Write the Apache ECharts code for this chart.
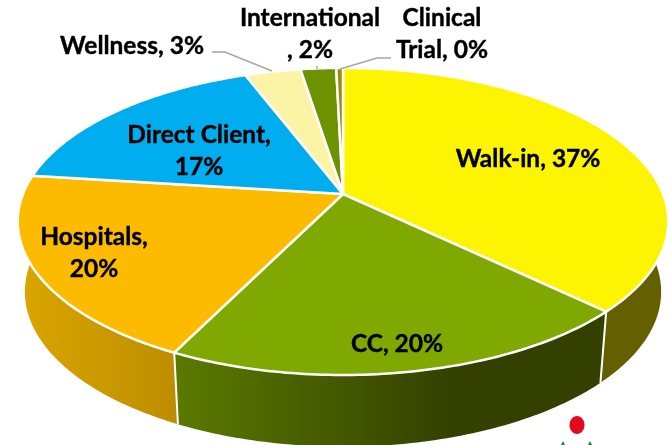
<!DOCTYPE html>
<html>
<head>
<meta charset="utf-8">
<style>
  html, body { margin: 0; padding: 0; background: #fff; }
  #chart { width: 670px; height: 445px; }
</style>
<script src="https://cdn.jsdelivr.net/npm/echarts@6/dist/echarts.min.js"></script>
</head>
<body>
<div id="chart"></div>
<script>
// slice data, shares in percent
var categories = ['Walk-in', 'CC', 'Hospitals', 'Direct Client', 'Wellness', 'International', 'Clinical Trial'];
var shares = [37.2, 20.1, 19.7, 17.2, 3.3, 2.1, 0.4];
var labels = ['Walk-in, 37%', 'CC, 20%', 'Hospitals,\n20%', 'Direct Client,\n17%', 'Wellness, 3%', 'International\n, 2%', 'Clinical\nTrial, 0%'];

var topColors = ['#FCF400', '#7FA900', '#FDBB00', '#00AEEF', '#FBF3A6', '#6E9300', '#978C0E'];
var sideColors = ['#646000', ['#5B7A00', '#334000', 0.65], ['#DBA600', '#BD8D00', 1], '#006A90', '#99946A', '#435900', '#5C5508'];
var labelCenters = [[528, 159], [397, 344], [94, 253], [199, 151], [132, 46], [310, 34], [442, 34]];

// perspective of the disc: apex, half axes and foreshortening
var k = 0.179;
var topRim = { x: 343, y: 194, a: 320, b: 148.6 };
var lowRim = { x: 343, y: 264, a: 313, b: 150 };

function project(rim, share) {
  var t = share / 100 * Math.PI * 2;
  var X = Math.sin(t), Y = Math.cos(t);
  var d = 1 + k * Y;
  return [rim.x + rim.a * X / d, rim.y - rim.b * Y / d];
}

function arc(rim, from, to) {
  var pts = [];
  var n = Math.max(2, Math.ceil((to - from) * 4));
  for (var i = 0; i <= n; i++) {
    pts.push(project(rim, from + (to - from) * i / n));
  }
  return pts;
}

function startOf(idx) {
  var s = 0;
  for (var i = 0; i < idx; i++) s += shares[i];
  return s;
}

function sideFill(c) {
  if (typeof c === 'string') return c;
  return new echarts.graphic.LinearGradient(0, 0, 1, 0, [
    { offset: 0, color: c[0] },
    { offset: c[2], color: c[1] },
    { offset: 1, color: c[1] }
  ]);
}

function renderSide(params, api) {
  var i = params.dataIndex;
  var from = startOf(i), to = from + api.value(0);
  var pts = arc(topRim, from, to).concat(arc(lowRim, from, to).reverse());
  // no outline here, only the seam between two slices is white
  return {
    type: 'group',
    children: [{
      type: 'polygon',
      shape: { points: pts },
      style: { fill: sideFill(sideColors[i]) }
    }, {
      type: 'polyline',
      z2: 1,
      shape: { points: [project(topRim, to), project(lowRim, to)] },
      style: { stroke: '#fff', lineWidth: 2, fill: null }
    }]
  };
}

function renderTop(params, api) {
  var i = params.dataIndex;
  var from = startOf(i), to = from + api.value(0);
  var pts = [[topRim.x, topRim.y]].concat(arc(topRim, from, to));
  return {
    type: 'polygon',
    shape: { points: pts },
    style: { fill: topColors[i], stroke: '#fff', lineWidth: 2.5, lineJoin: 'round' }
  };
}

function renderLabel(params) {
  var i = params.dataIndex;
  return {
    type: 'text',
    x: labelCenters[i][0],
    y: labelCenters[i][1],
    style: {
      text: labels[i],
      fill: '#000',
      stroke: '#000',
      lineWidth: 0.4,
      font: 'bold 24.5px Lato',
      lineHeight: 32,
      align: 'center',
      verticalAlign: 'middle'
    }
  };
}

var chart = echarts.init(document.getElementById('chart'), null, { renderer: 'canvas' });
chart.setOption({
  animation: false,
  backgroundColor: '#fff',
  graphic: [
    { type: 'polyline', z: 5, shape: { points: [[212, 52], [225, 52], [272, 71]] }, style: { stroke: '#A6A6A6', lineWidth: 1.5, fill: null } },
    { type: 'polyline', z: 5, shape: { points: [[317, 66], [317, 69]] }, style: { stroke: '#A6A6A6', lineWidth: 1.5, fill: null } },
    { type: 'polyline', z: 5, shape: { points: [[340, 69], [377, 58], [391, 58]] }, style: { stroke: '#A6A6A6', lineWidth: 1.5, fill: null } },
    { type: 'ellipse', z: 5, shape: { cx: 577, cy: 425, rx: 7.5, ry: 9 }, style: { fill: '#E30A1E' } },
    { type: 'polygon', z: 5, shape: { points: [[563, 441], [561, 445], [565, 445]] }, style: { fill: '#1E8C3C' } },
    { type: 'polygon', z: 5, shape: { points: [[590, 441], [588, 445], [592, 445]] }, style: { fill: '#1E8C3C' } }
  ],
  series: [
    { type: 'custom', coordinateSystem: 'none', z: 1, silent: true, renderItem: renderSide, data: shares },
    { type: 'custom', coordinateSystem: 'none', z: 2, silent: true, renderItem: renderTop, data: shares },
    { type: 'custom', coordinateSystem: 'none', z: 3, silent: true, renderItem: renderLabel, data: shares }
  ]
});
</script>
</body>
</html>
